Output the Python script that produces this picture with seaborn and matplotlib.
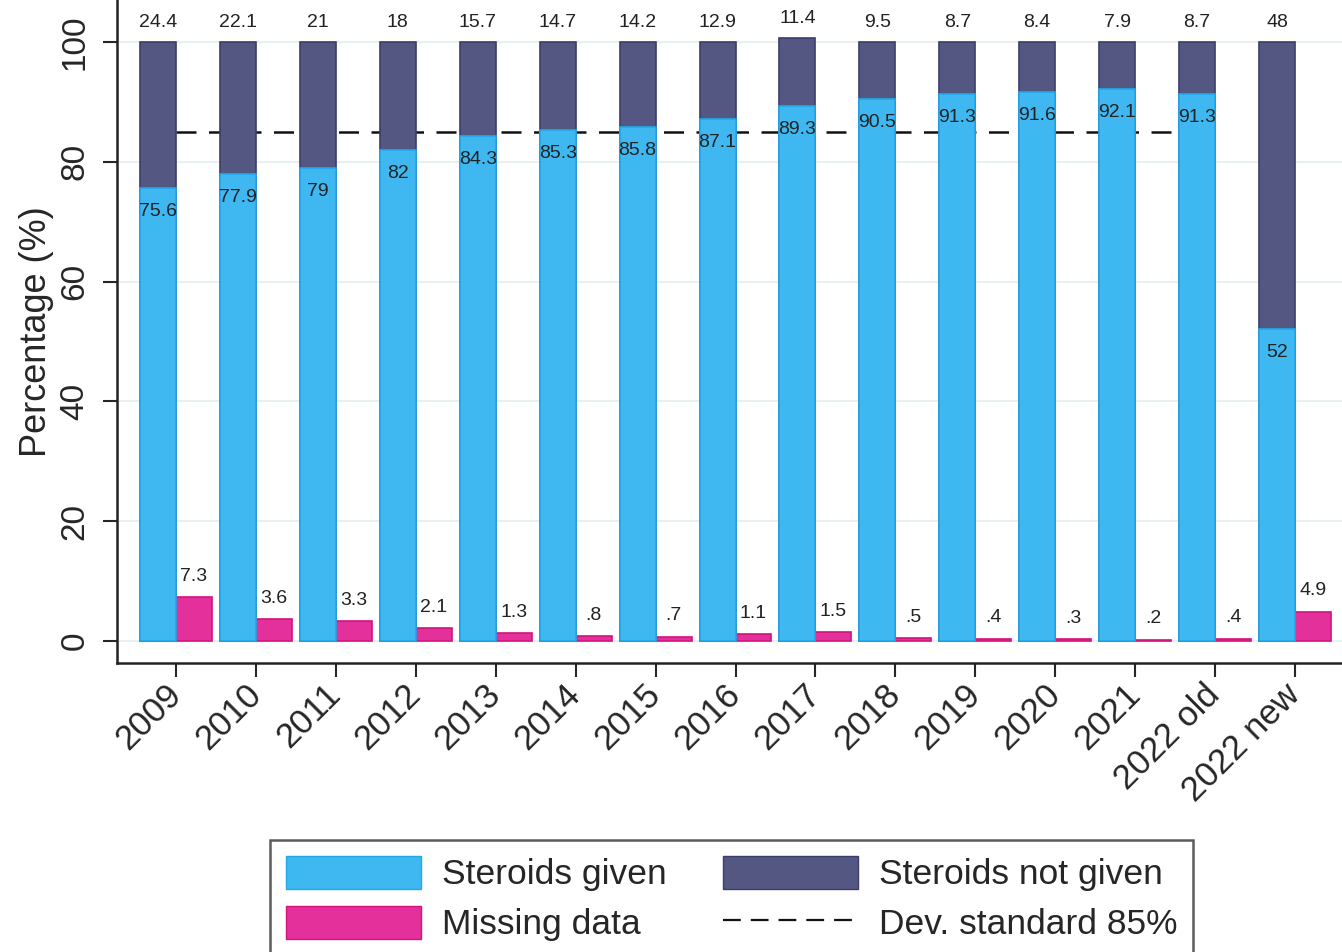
import numpy as np
import pandas as pd
import matplotlib.pyplot as plt
from matplotlib.patches import Patch
from matplotlib.lines import Line2D
import seaborn as sns

# Dati
years = ['2009', '2010', '2011', '2012', '2013', '2014', '2015', '2016',
         '2017', '2018', '2019', '2020', '2021', '2022 old', '2022 new']
given = [75.6, 77.9, 79, 82, 84.3, 85.3, 85.8, 87.1, 89.3, 90.5, 91.3, 91.6, 92.1, 91.3, 52]
not_given = [24.4, 22.1, 21, 18, 15.7, 14.7, 14.2, 12.9, 11.4, 9.5, 8.7, 8.4, 7.9, 8.7, 48]
missing = [7.3, 3.6, 3.3, 2.1, 1.3, 0.8, 0.7, 1.1, 1.5, 0.5, 0.4, 0.3, 0.2, 0.4, 4.9]
standard = 85
standard_end = '2022 old'

sns.set_style('white')
plt.rcParams['font.family'] = ['Liberation Sans', 'DejaVu Sans']

c_given, e_given = '#3fb8f2', '#1ea9ea'
c_not, e_not = '#555783', '#3b3d6c'
c_miss, e_miss = '#e4309a', '#d3137f'
txt = '#222222'


def lab(v):
    # stile Stata: .8 invece di 0.8
    s = f'{v:g}'
    return s[1:] if s.startswith('0.') else s


n = len(years)
total = [g + m for g, m in zip(given, not_given)]
df_top = pd.DataFrame({
    'year': years * 2,
    'part': ['Steroids'] * n + ['Missing data'] * n,
    'value': total + missing,
})
df_given = pd.DataFrame({'year': years, 'part': ['Steroids'] * n, 'value': given})
order = ['Steroids', 'Missing data']

fig = plt.figure(figsize=(13.42, 9.52), dpi=100)
ax = fig.add_axes([0.0872, 0.3035, 0.9128, 0.6965])

# barre impilate: totale (non somministrati) sotto, somministrati sopra
sns.barplot(data=df_top, x='year', y='value', hue='part', hue_order=order,
            palette={'Steroids': c_not, 'Missing data': c_miss},
            dodge=True, width=0.9, errorbar=None, legend=False,
            linewidth=1.2, saturation=1, ax=ax)
k = len(ax.containers)
sns.barplot(data=df_given, x='year', y='value', hue='part', hue_order=order,
            palette={'Steroids': c_given, 'Missing data': c_miss},
            dodge=True, width=0.9, errorbar=None, legend=False,
            linewidth=1.2, saturation=1, ax=ax)

cont_not, cont_miss = ax.containers[0], ax.containers[1]
cont_given = [c for c in ax.containers[k:] if len(c) == n][0]
for c, ec in [(cont_not, e_not), (cont_miss, e_miss), (cont_given, e_given)]:
    for p in c:
        p.set_edgecolor(ec)
        p.set_zorder(2)

# linea standard 85%
ax.hlines(standard, 0, years.index(standard_end), colors='#111111',
          linestyles=(0, (8, 5)), linewidth=1.8, zorder=1)

ax.bar_label(cont_not, labels=[lab(v) for v in not_given], padding=8,
             fontsize=14, color=txt)
ax.bar_label(cont_given, labels=[lab(v) for v in given], padding=-23,
             fontsize=14, color=txt)
ax.bar_label(cont_miss, labels=[lab(v) for v in missing], padding=9,
             fontsize=14, color=txt)

ax.set_xlim(-0.738, 14.588)
ax.set_ylim(-3.68, 107)
ax.set_yticks([0, 20, 40, 60, 80, 100])
ax.yaxis.grid(True, color='#e8f0f2', linewidth=1.5, zorder=0)
ax.set_axisbelow(True)
ax.set_xlabel('')
ax.set_ylabel('Percentage (%)', fontsize=26, labelpad=4)
ax.tick_params(axis='y', labelsize=24, length=10, width=1.5, pad=9,
               labelrotation=90, left=True)
ax.tick_params(axis='x', labelsize=25, length=10, width=1.5, pad=9, bottom=True)
for t in ax.get_yticklabels():
    t.set_va('center')
for t in ax.get_xticklabels():
    t.set_rotation(45)
    t.set_ha('right')
    t.set_va('center')
    t.set_rotation_mode('anchor')

sns.despine(ax=ax, top=True, right=True)
for s in ['left', 'bottom']:
    ax.spines[s].set_linewidth(1.8)
    ax.spines[s].set_color('#222222')

handles = [
    Patch(facecolor=c_given, edgecolor=e_given),
    Patch(facecolor=c_miss, edgecolor=e_miss),
    Patch(facecolor=c_not, edgecolor=e_not),
    Line2D([], [], color='#111111', linestyle=(0, (8, 4.5)), linewidth=1.6),
]
labels = ['Steroids given', 'Missing data', 'Steroids not given', 'Dev. standard 85%']
leg = fig.legend(handles, labels, ncol=2, loc='upper center',
                 bbox_to_anchor=(0.5452, 0.1176), borderaxespad=0,
                 fontsize=25.5, frameon=True,
                 fancybox=False, handlelength=3.8, handleheight=1.05,
                 handletextpad=0.6, columnspacing=1.6, borderpad=0.45,
                 labelspacing=0.4)
leg.get_frame().set_edgecolor('#333333')
leg.get_frame().set_linewidth(1.8)

fig.savefig('out.png', dpi=100)
